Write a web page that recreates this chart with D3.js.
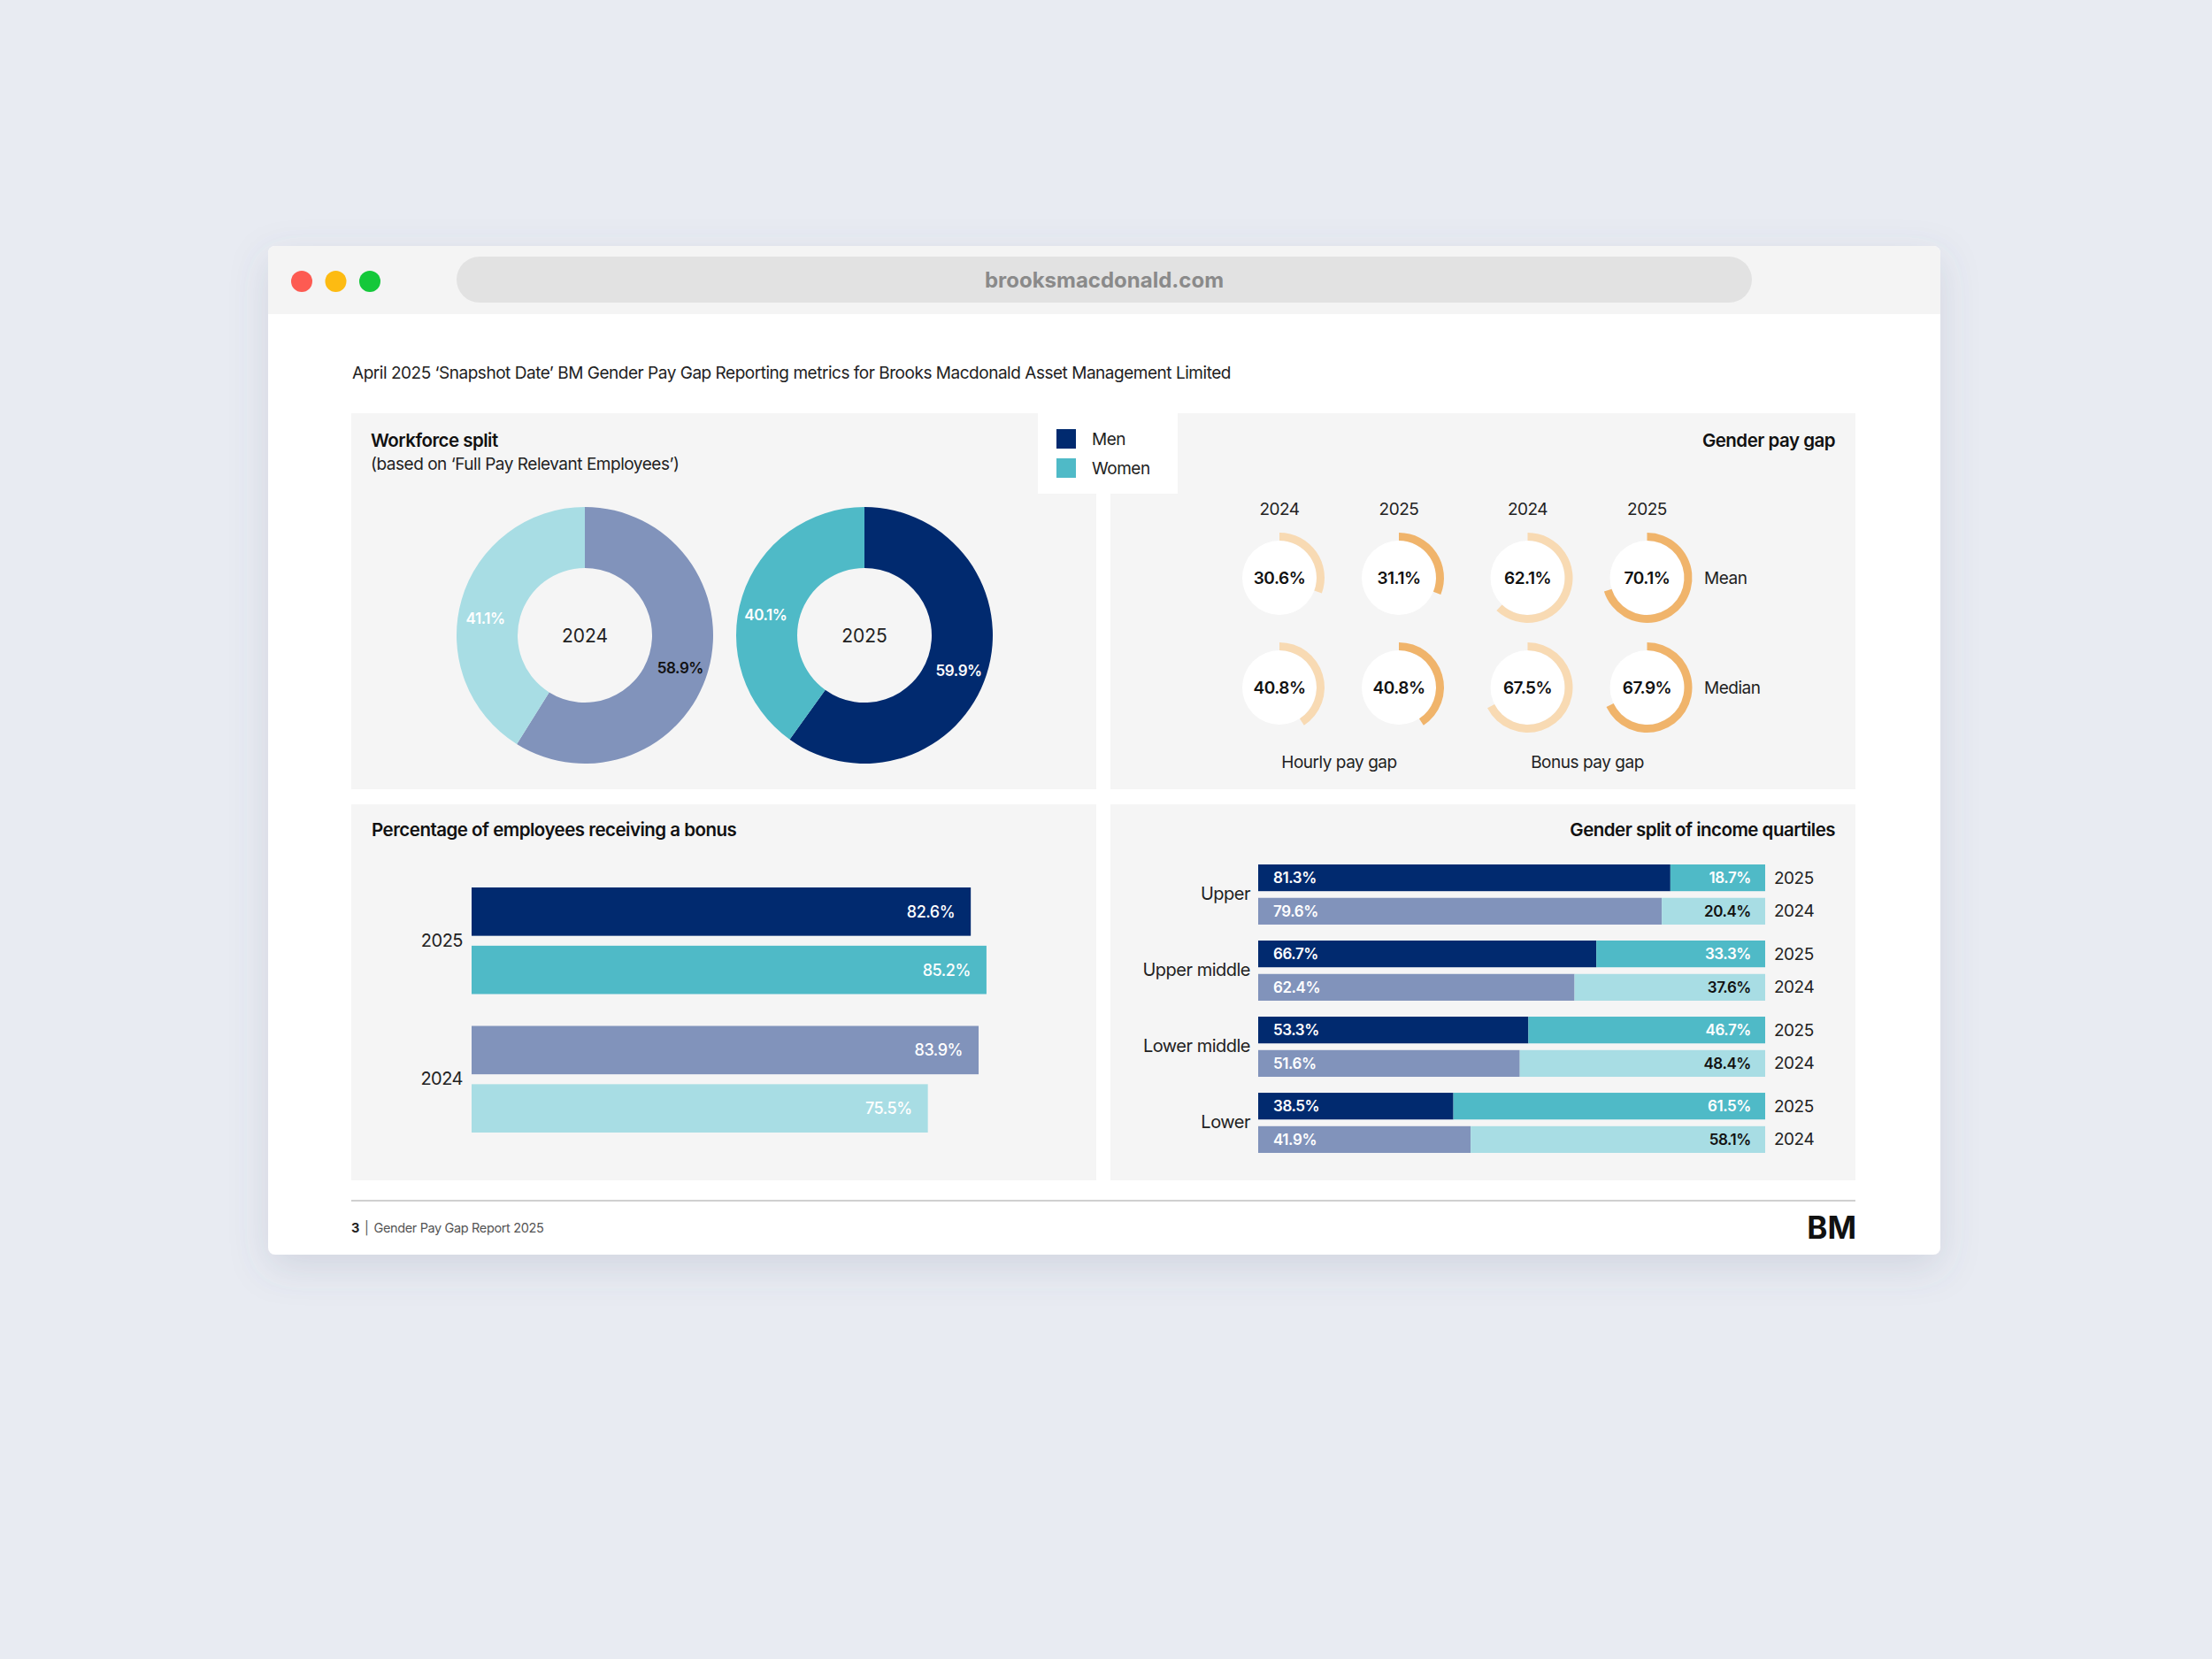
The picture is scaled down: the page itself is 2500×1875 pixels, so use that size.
<!DOCTYPE html>
<html>
<head>
<meta charset="utf-8">
<script src="https://cdn.jsdelivr.net/npm/d3@7"></script>
<style>
  html, body { margin: 0; padding: 0; background: #e8ebf2; }
  svg { display: block; font-family: Inter, "Noto Sans", sans-serif; }
  .tight { letter-spacing: -0.025em; }
</style>
</head>
<body>
<div id="chart"></div>
<script>
// ---- data ----
const years = ["2024", "2025"];
const workforceMen = [58.9, 59.9];
const workforceWomen = [41.1, 40.1];

const gapTypes = ["Hourly pay gap", "Bonus pay gap"];
const gapMeasures = ["Mean", "Median"];
const hourlyMean = [30.6, 31.1];
const hourlyMedian = [40.8, 40.8];
const bonusMean = [62.1, 70.1];
const bonusMedian = [67.5, 67.9];

const bonusYears = ["2025", "2024"];
const bonusMen = [82.6, 83.9];     // 2025, 2024
const bonusWomen = [85.2, 75.5];   // 2025, 2024

const quartiles = ["Upper", "Upper middle", "Lower middle", "Lower"];
const quartileYears = ["2025", "2024"];
const quartileMen2025 = [81.3, 66.7, 53.3, 38.5];
const quartileWomen2025 = [18.7, 33.3, 46.7, 61.5];
const quartileMen2024 = [79.6, 62.4, 51.6, 41.9];
const quartileWomen2024 = [20.4, 37.6, 48.4, 58.1];

// ---- colours ----
const MEN = {"2025": "#012a6f", "2024": "#8193bb"};
const WOMEN = {"2025": "#4fbac7", "2024": "#a8dde4"};
const GAUGE = {"2024": "#f8dab3", "2025": "#f0b46b"};
const PANEL = "#f5f5f5";

const W = 2500, H = 1875;
const svg = d3.select("#chart").append("svg")
  .attr("width", W)
  .attr("height", H);

const defs = svg.append("defs");
const shadow = defs.append("filter").attr("id", "shadow")
  .attr("x", "-10%").attr("y", "-10%").attr("width", "120%").attr("height", "130%");
shadow.append("feDropShadow")
  .attr("dx", 0).attr("dy", 14).attr("stdDeviation", 22)
  .attr("flood-color", "#5a6480").attr("flood-opacity", 0.16);

svg.append("rect").attr("width", W).attr("height", H).attr("fill", "#e8ebf2");

//
// Browser window
//
const win = {x: 303, y: 278, w: 1890, h: 1140};
svg.append("rect")
  .attr("x", win.x).attr("y", win.y).attr("width", win.w).attr("height", win.h)
  .attr("rx", 8).attr("fill", "#ffffff").attr("filter", "url(#shadow)");
svg.append("path")
  .attr("d", `M${win.x},${win.y + 8} a8,8 0 0 1 8,-8 h${win.w - 16} a8,8 0 0 1 8,8 v69 h${-win.w} z`)
  .attr("fill", "#f4f4f4");
svg.selectAll("circle.dot")
  .data(["#fd5b52", "#fdbb12", "#14c83a"])
  .join("circle")
    .attr("class", "dot")
    .attr("cx", (d, i) => 341 + i * 38.5)
    .attr("cy", 318)
    .attr("r", 12)
    .attr("fill", d => d);
svg.append("rect")
  .attr("x", 516).attr("y", 290).attr("width", 1464).attr("height", 52)
  .attr("rx", 26).attr("fill", "#e2e2e2");
svg.append("text")
  .attr("x", 1248).attr("y", 316)
  .attr("text-anchor", "middle").attr("dominant-baseline", "central")
  .attr("font-size", 24).attr("font-weight", 700).attr("fill", "#8a8a8a")
  .text("brooksmacdonald.com");

svg.append("text")
  .attr("class", "tight")
  .attr("x", 398).attr("y", 428)
  .attr("font-size", 19).attr("fill", "#222")
  .text("April 2025 \u2018Snapshot Date\u2019 BM Gender Pay Gap Reporting metrics for Brooks Macdonald Asset Management Limited");

// Panels
const panels = [
  {x: 397, y: 467}, {x: 1255, y: 467},
  {x: 397, y: 909}, {x: 1255, y: 909}
];
svg.selectAll("rect.panel")
  .data(panels)
  .join("rect")
    .attr("class", "panel")
    .attr("x", d => d.x).attr("y", d => d.y)
    .attr("width", 842).attr("height", 425)
    .attr("fill", PANEL);

function title(x, y, txt, anchor = "start") {
  return svg.append("text")
    .attr("class", "tight")
    .attr("x", x).attr("y", y)
    .attr("text-anchor", anchor)
    .attr("font-size", 20.5).attr("font-weight", 600).attr("fill", "#111")
    .text(txt);
}

//
// Workforce split donuts
//
title(419, 505, "Workforce split");
svg.append("text")
  .attr("class", "tight")
  .attr("x", 419).attr("y", 531)
  .attr("font-size", 19).attr("fill", "#222")
  .text("(based on \u2018Full Pay Relevant Employees\u2019)");

const donutX = d3.scalePoint().domain(years).range([661, 977]);
const pie = d3.pie().sort(null).value(d => d.value);
const arc = d3.arc().innerRadius(76).outerRadius(145);
const labelArc = d3.arc().innerRadius(114).outerRadius(114);

years.forEach((yr, i) => {
  const slices = pie([
    {key: "Men", value: workforceMen[i], color: MEN[yr]},
    {key: "Women", value: workforceWomen[i], color: WOMEN[yr]}
  ]);
  const g = svg.append("g").attr("transform", `translate(${donutX(yr)},718)`);
  g.selectAll("path")
    .data(slices)
    .join("path")
      .attr("d", arc)
      .attr("fill", d => d.data.color);
  g.selectAll("text.pct")
    .data(slices)
    .join("text")
      .attr("class", "pct tight")
      .attr("transform", d => {
        // the report nudges its labels a little towards the horizontal
        const a = (d.startAngle + d.endAngle) / 2 + (d.data.key === "Men" ? 0.05 : -0.11);
        return `translate(${labelArc.centroid({startAngle: a, endAngle: a})})`;
      })
      .attr("text-anchor", "middle").attr("dominant-baseline", "central")
      .attr("font-size", 17).attr("font-weight", 600)
      .attr("fill", d => (yr === "2024" && d.data.key === "Men") ? "#111" : "#ffffff")
      .text(d => d.data.value.toFixed(1) + "%");
  g.append("text")
    .attr("text-anchor", "middle").attr("dominant-baseline", "central")
    .attr("font-size", 21).attr("fill", "#222")
    .text(yr);
});

// Legend
svg.append("rect")
  .attr("x", 1173).attr("y", 467).attr("width", 158).attr("height", 91)
  .attr("fill", "#ffffff");
const legend = svg.selectAll("g.legend")
  .data([{key: "Men", color: MEN["2025"]}, {key: "Women", color: WOMEN["2025"]}])
  .join("g")
    .attr("class", "legend")
    .attr("transform", (d, i) => `translate(1194,${485 + i * 33})`);
legend.append("rect").attr("width", 22).attr("height", 22).attr("fill", d => d.color);
legend.append("text")
  .attr("class", "tight")
  .attr("x", 40).attr("y", 11)
  .attr("dominant-baseline", "central")
  .attr("font-size", 19).attr("fill", "#222")
  .text(d => d.key);

//
// Gender pay gap gauges
//
title(2074, 505, "Gender pay gap", "end");

const gapValues = {
  "Hourly pay gap": {"Mean": hourlyMean, "Median": hourlyMedian},
  "Bonus pay gap": {"Mean": bonusMean, "Median": bonusMedian}
};
const groupX = d3.scalePoint().domain(gapTypes).range([1513.5, 1794]);
const yearX = d3.scalePoint().domain(years).range([-67.5, 67.5]);
const rowY = d3.scalePoint().domain(gapMeasures).range([653, 777]);
const angle = d3.scaleLinear().domain([0, 100]).range([0, 2 * Math.PI]);
const gaugeArc = d3.arc().innerRadius(42).outerRadius(51).startAngle(0);

const gauges = [];
gapTypes.forEach(t => gapMeasures.forEach(m => years.forEach((yr, i) => {
  gauges.push({type: t, measure: m, year: yr, value: gapValues[t][m][i]});
})));

const gg = svg.selectAll("g.gauge")
  .data(gauges)
  .join("g")
    .attr("class", "gauge")
    .attr("transform", d => `translate(${groupX(d.type) + yearX(d.year)},${rowY(d.measure)})`);
gg.append("circle").attr("r", 42).attr("fill", "#ffffff");
gg.append("path")
  .attr("d", d => gaugeArc({endAngle: angle(d.value)}))
  .attr("fill", d => GAUGE[d.year]);
gg.append("text")
  .attr("class", "tight")
  .attr("text-anchor", "middle").attr("dominant-baseline", "central")
  .attr("font-size", 19).attr("font-weight", 600).attr("fill", "#111")
  .text(d => d.value.toFixed(1) + "%");

gapTypes.forEach(t => {
  years.forEach(yr => {
    svg.append("text")
      .attr("class", "tight")
      .attr("x", groupX(t) + yearX(yr)).attr("y", 575)
      .attr("text-anchor", "middle").attr("dominant-baseline", "central")
      .attr("font-size", 19).attr("fill", "#222")
      .text(yr);
  });
  svg.append("text")
    .attr("class", "tight")
    .attr("x", groupX(t)).attr("y", 861)
    .attr("text-anchor", "middle").attr("dominant-baseline", "central")
    .attr("font-size", 19).attr("fill", "#222")
    .text(t);
});
gapMeasures.forEach(m => {
  svg.append("text")
    .attr("class", "tight")
    .attr("x", 1926).attr("y", rowY(m))
    .attr("dominant-baseline", "central")
    .attr("font-size", 19).attr("fill", "#222")
    .text(m);
});

//
// Percentage of employees receiving a bonus
//
title(420, 945, "Percentage of employees receiving a bonus");

const bx = d3.scaleLinear().domain([0, 100]).range([533, 1216]);
const by = d3.scaleBand().domain(bonusYears).range([1003, 1280]).paddingInner(0.23);
const bySub = d3.scaleBand().domain(["Men", "Women"]).range([0, by.bandwidth()]).paddingInner(0.17);

const bonusBars = [];
bonusYears.forEach((yr, i) => {
  bonusBars.push({year: yr, gender: "Men", value: bonusMen[i], color: MEN[yr]});
  bonusBars.push({year: yr, gender: "Women", value: bonusWomen[i], color: WOMEN[yr]});
});
svg.selectAll("rect.bonus")
  .data(bonusBars)
  .join("rect")
    .attr("class", "bonus")
    .attr("x", bx(0))
    .attr("y", d => by(d.year) + bySub(d.gender))
    .attr("width", d => bx(d.value) - bx(0))
    .attr("height", bySub.bandwidth())
    .attr("fill", d => d.color);
svg.selectAll("text.bonus")
  .data(bonusBars)
  .join("text")
    .attr("class", "bonus tight")
    .attr("x", d => bx(d.value) - 18)
    .attr("y", d => by(d.year) + bySub(d.gender) + bySub.bandwidth() / 2)
    .attr("text-anchor", "end").attr("dominant-baseline", "central")
    .attr("font-size", 18).attr("font-weight", 500).attr("fill", "#ffffff")
    .text(d => d.value.toFixed(1) + "%");
svg.append("g")
  .attr("transform", `translate(${bx(0)},0)`)
  .call(d3.axisLeft(by).tickSize(0).tickPadding(10))
  .call(g => g.select(".domain").remove())
  .selectAll("text")
    .attr("class", "tight")
    .attr("font-family", "Inter, 'Noto Sans', sans-serif")
    .attr("font-size", 20).attr("fill", "#222");

//
// Gender split of income quartiles
//
title(2074, 945, "Gender split of income quartiles", "end");

const qx = d3.scaleLinear().domain([0, 100]).range([1422, 1995]);
const qy = d3.scaleBand().domain(quartiles).range([977, 1303]).paddingInner(0.21);
const qySub = d3.scaleBand().domain(quartileYears).range([0, qy.bandwidth()]).paddingInner(0.2);

const qRows = [];
quartiles.forEach((q, i) => {
  qRows.push({q, year: "2025", men: quartileMen2025[i], women: quartileWomen2025[i]});
  qRows.push({q, year: "2024", men: quartileMen2024[i], women: quartileWomen2024[i]});
});
const row = svg.selectAll("g.qrow")
  .data(qRows)
  .join("g")
    .attr("class", "qrow")
    .attr("transform", d => `translate(0,${qy(d.q) + qySub(d.year)})`);
row.append("rect")
  .attr("x", qx(0)).attr("height", qySub.bandwidth())
  .attr("width", d => qx(d.men) - qx(0))
  .attr("fill", d => MEN[d.year]);
row.append("rect")
  .attr("x", d => qx(d.men)).attr("height", qySub.bandwidth())
  .attr("width", d => qx(d.men + d.women) - qx(d.men))
  .attr("fill", d => WOMEN[d.year]);
row.append("text")
  .attr("class", "tight")
  .attr("x", qx(0) + 17).attr("y", qySub.bandwidth() / 2)
  .attr("dominant-baseline", "central")
  .attr("font-size", 17).attr("font-weight", 600).attr("fill", "#ffffff")
  .text(d => d.men.toFixed(1) + "%");
row.append("text")
  .attr("class", "tight")
  .attr("x", qx(100) - 16).attr("y", qySub.bandwidth() / 2)
  .attr("text-anchor", "end").attr("dominant-baseline", "central")
  .attr("font-size", 17).attr("font-weight", 600)
  .attr("fill", d => d.year === "2025" ? "#ffffff" : "#111")
  .text(d => d.women.toFixed(1) + "%");
row.append("text")
  .attr("class", "tight")
  .attr("x", qx(100) + 10).attr("y", qySub.bandwidth() / 2)
  .attr("dominant-baseline", "central")
  .attr("font-size", 19).attr("fill", "#222")
  .text(d => d.year);
svg.append("g")
  .attr("transform", `translate(${qx(0)},0)`)
  .call(d3.axisLeft(qy).tickSize(0).tickPadding(9))
  .call(g => g.select(".domain").remove())
  .selectAll("text")
    .attr("class", "tight")
    .attr("font-family", "Inter, 'Noto Sans', sans-serif")
    .attr("font-size", 20).attr("fill", "#222");

//
// Footer
//
svg.append("line")
  .attr("x1", 397).attr("x2", 2097).attr("y1", 1357).attr("y2", 1357)
  .attr("stroke", "#d0d0d0").attr("stroke-width", 2);
const foot = svg.append("text")
  .attr("class", "tight")
  .attr("x", 397).attr("y", 1393)
  .attr("font-size", 14.5).attr("fill", "#555");
foot.append("tspan").attr("font-weight", 700).attr("fill", "#222").text("3");
foot.append("tspan").attr("dx", 6).text("|");
foot.append("tspan").attr("dx", 6).text("Gender Pay Gap Report 2025");
svg.append("text")
  .attr("x", 2098).attr("y", 1400)
  .attr("text-anchor", "end")
  .attr("font-size", 35).attr("font-weight", 700).attr("fill", "#111")
  .text("BM");
</script>
</body>
</html>
